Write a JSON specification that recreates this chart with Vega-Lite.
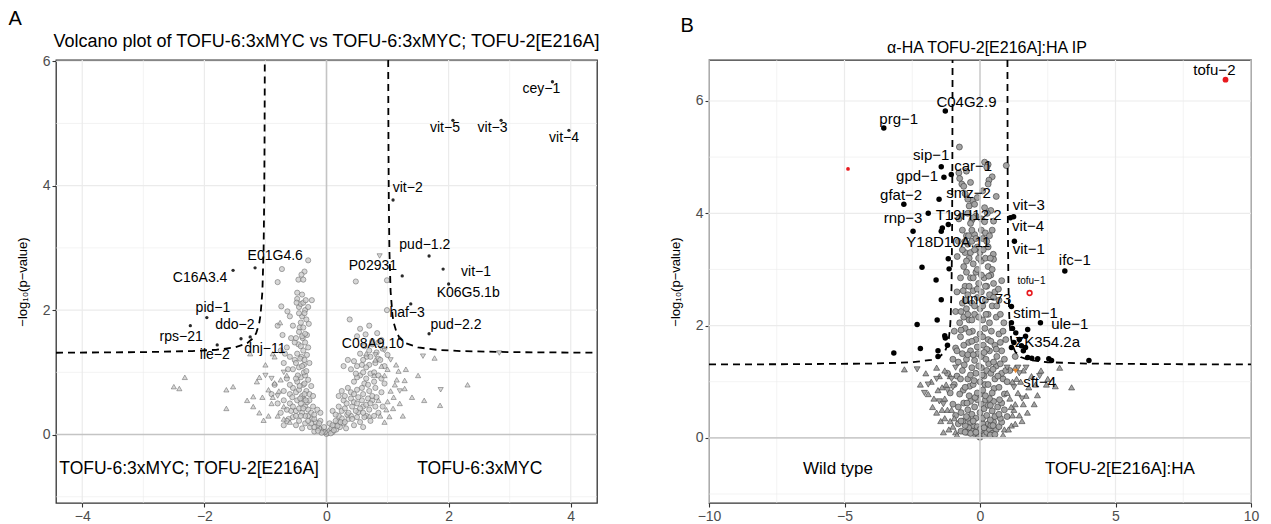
{
"$schema": "https://vega.github.io/schema/vega-lite/v6.json",
"background": "white",
"padding": {"left": 8, "top": 8, "right": 0, "bottom": 0},
"config": {
  "view": {"stroke": "#333333", "strokeWidth": 1.3},
  "font": "Liberation Sans",
  "title": {"font": "Liberation Sans", "fontWeight": "normal", "color": "black"},
  "axis": {"grid": false, "domain": false, "ticks": true, "tickColor": "#333333", "tickSize": 4, "tickWidth": 1.1, "labelFont": "Liberation Sans", "labelFontSize": 14, "labelColor": "#4d4d4d", "labelPadding": 2, "labelOverlap": false, "titleFont": "Liberation Sans", "titleFontSize": 13, "titleFontWeight": "normal", "titleColor": "black", "titlePadding": 13}
},
"datasets": {
  "gxA": [{"v":-4,"k":"major"},{"v":-3,"k":"minor"},{"v":-2,"k":"major"},{"v":-1,"k":"minor"},{"v":1,"k":"minor"},{"v":2,"k":"major"},{"v":3,"k":"minor"},{"v":4,"k":"major"}],
  "gyA": [{"v":-1,"k":"minor"},{"v":1,"k":"minor"},{"v":2,"k":"major"},{"v":3,"k":"minor"},{"v":4,"k":"major"},{"v":5,"k":"minor"},{"v":6,"k":"major"}],
  "gxB": [{"v":-10,"k":"major"},{"v":-7.5,"k":"minor"},{"v":-5,"k":"major"},{"v":-2.5,"k":"minor"},{"v":2.5,"k":"minor"},{"v":5,"k":"major"},{"v":7.5,"k":"minor"},{"v":10,"k":"major"}],
  "gyB": [{"v":-1,"k":"minor"},{"v":1,"k":"minor"},{"v":2,"k":"major"},{"v":3,"k":"minor"},{"v":4,"k":"major"},{"v":5,"k":"minor"},{"v":6,"k":"major"}],
  "zero": [{"v":0}],
  "thrA": [
    {"side":"R","x":1.0106,"y":6.02},{"side":"R","x":1.012,"y":5.47},{"side":"R","x":1.015,"y":4.63},{"side":"R","x":1.02,"y":3.8},{"side":"R","x":1.03,"y":2.97},{"side":"R","x":1.05,"y":2.3},{"side":"R","x":1.08,"y":1.925},{"side":"R","x":1.1,"y":1.8},{"side":"R","x":1.15,"y":1.633},{"side":"R","x":1.2,"y":1.55},{"side":"R","x":1.3,"y":1.467},{"side":"R","x":1.5,"y":1.4},{"side":"R","x":1.8,"y":1.363},{"side":"R","x":2.2,"y":1.342},{"side":"R","x":3,"y":1.325},{"side":"R","x":4.43,"y":1.315},
    {"side":"L","x":-1.0106,"y":6.02},{"side":"L","x":-1.012,"y":5.47},{"side":"L","x":-1.015,"y":4.63},{"side":"L","x":-1.02,"y":3.8},{"side":"L","x":-1.03,"y":2.97},{"side":"L","x":-1.05,"y":2.3},{"side":"L","x":-1.08,"y":1.925},{"side":"L","x":-1.1,"y":1.8},{"side":"L","x":-1.15,"y":1.633},{"side":"L","x":-1.2,"y":1.55},{"side":"L","x":-1.3,"y":1.467},{"side":"L","x":-1.5,"y":1.4},{"side":"L","x":-1.8,"y":1.363},{"side":"L","x":-2.2,"y":1.342},{"side":"L","x":-3,"y":1.325},{"side":"L","x":-4.43,"y":1.315}
  ],
  "thrB": [
    {"side":"R","x":1.013,"y":6.73},{"side":"R","x":1.015,"y":5.97},{"side":"R","x":1.02,"y":4.8},{"side":"R","x":1.03,"y":3.633},{"side":"R","x":1.05,"y":2.7},{"side":"R","x":1.08,"y":2.175},{"side":"R","x":1.1,"y":2.0},{"side":"R","x":1.15,"y":1.767},{"side":"R","x":1.2,"y":1.65},{"side":"R","x":1.3,"y":1.533},{"side":"R","x":1.5,"y":1.44},{"side":"R","x":1.8,"y":1.388},{"side":"R","x":2.5,"y":1.347},{"side":"R","x":4,"y":1.323},{"side":"R","x":7,"y":1.312},{"side":"R","x":10,"y":1.308},
    {"side":"L","x":-1.013,"y":6.73},{"side":"L","x":-1.015,"y":5.97},{"side":"L","x":-1.02,"y":4.8},{"side":"L","x":-1.03,"y":3.633},{"side":"L","x":-1.05,"y":2.7},{"side":"L","x":-1.08,"y":2.175},{"side":"L","x":-1.1,"y":2.0},{"side":"L","x":-1.15,"y":1.767},{"side":"L","x":-1.2,"y":1.65},{"side":"L","x":-1.3,"y":1.533},{"side":"L","x":-1.5,"y":1.44},{"side":"L","x":-1.8,"y":1.388},{"side":"L","x":-2.5,"y":1.347},{"side":"L","x":-4,"y":1.323},{"side":"L","x":-7,"y":1.312},{"side":"L","x":-10,"y":1.308}
  ],
  "gA": [
    {"x":0,"y":0.01,"s":"c"},{"x":0.02,"y":0.03,"s":"c"},{"x":-0.03,"y":0.04,"s":"c"},{"x":0.05,"y":0.06,"s":"c"},{"x":-0.06,"y":0.05,"s":"c"},{"x":0.08,"y":0.1,"s":"c"},{"x":-0.09,"y":0.08,"s":"c"},{"x":0.1,"y":0.04,"s":"c"},{"x":-0.12,"y":0.1,"s":"c"},{"x":0.13,"y":0.14,"s":"c"},{"x":-0.15,"y":0.15,"s":"c"},{"x":0.16,"y":0.08,"s":"c"},{"x":-0.18,"y":0.2,"s":"c"},{"x":0.19,"y":0.2,"s":"c"},{"x":-0.2,"y":0.05,"s":"c"},{"x":0.22,"y":0.12,"s":"c"},{"x":-0.24,"y":0.25,"s":"c"},{"x":0.25,"y":0.26,"s":"c"},{"x":-0.27,"y":0.12,"s":"c"},{"x":0.28,"y":0.18,"s":"c"},{"x":-0.3,"y":0.3,"s":"c"},{"x":0.32,"y":0.1,"s":"c"},{"x":-0.35,"y":0.18,"s":"c"},{"x":0.36,"y":0.25,"s":"c"},{"x":-0.4,"y":0.1,"s":"c"},{"x":0.4,"y":0.3,"s":"c"},{"x":-0.45,"y":0.22,"s":"c"},{"x":0.45,"y":0.15,"s":"c"},{"x":0.5,"y":0.28,"s":"c"},{"x":-0.5,"y":0.15,"s":"c"},{"x":0.55,"y":0.2,"s":"c"},{"x":-0.55,"y":0.28,"s":"c"},{"x":0.6,"y":0.12,"s":"c"},{"x":-0.62,"y":0.25,"s":"c"},{"x":0.65,"y":0.3,"s":"c"},{"x":-0.7,"y":0.15,"s":"c"},{"x":0.72,"y":0.22,"s":"c"},{"x":-0.1,"y":0.22,"s":"c"},{"x":0.05,"y":0.18,"s":"c"},{"x":-0.04,"y":0.12,"s":"c"},
    {"x":-0.08,"y":0.03,"s":"c"},{"x":0.07,"y":0.02,"s":"c"},{"x":-0.14,"y":0.06,"s":"c"},{"x":0.12,"y":0.07,"s":"c"},{"x":-0.2,"y":0.12,"s":"c"},{"x":0.18,"y":0.14,"s":"c"},{"x":-0.25,"y":0.18,"s":"c"},{"x":0.23,"y":0.2,"s":"c"},{"x":-0.3,"y":0.22,"s":"c"},{"x":0.3,"y":0.2,"s":"c"},{"x":-0.35,"y":0.3,"s":"c"},{"x":0.34,"y":0.32,"s":"c"},{"x":0.2,"y":0.3,"s":"c"},{"x":-0.2,"y":0.25,"s":"c"},{"x":0.1,"y":0.15,"s":"c"},{"x":-0.12,"y":0.18,"s":"c"},{"x":0.15,"y":0.22,"s":"c"},{"x":0.42,"y":0.25,"s":"c"},{"x":-0.5,"y":0.3,"s":"c"},{"x":0.52,"y":0.36,"s":"c"},{"x":-0.58,"y":0.38,"s":"c"},{"x":0.6,"y":0.45,"s":"c"},{"x":0.68,"y":0.58,"s":"c"},{"x":0.62,"y":0.28,"s":"c"},{"x":-0.65,"y":0.22,"s":"c"},{"x":0.78,"y":0.3,"s":"c"},
    {"x":-0.65,"y":0.4,"s":"c"},{"x":-0.6,"y":0.5,"s":"c"},{"x":-0.55,"y":0.45,"s":"c"},{"x":-0.5,"y":0.38,"s":"c"},{"x":-0.48,"y":0.55,"s":"c"},{"x":-0.45,"y":0.42,"s":"c"},{"x":-0.42,"y":0.5,"s":"c"},{"x":-0.4,"y":0.35,"s":"c"},{"x":-0.38,"y":0.58,"s":"c"},{"x":-0.35,"y":0.45,"s":"c"},{"x":-0.32,"y":0.52,"s":"c"},{"x":-0.3,"y":0.4,"s":"c"},{"x":-0.28,"y":0.55,"s":"c"},{"x":-0.25,"y":0.35,"s":"c"},{"x":-0.22,"y":0.45,"s":"c"},{"x":-0.2,"y":0.32,"s":"c"},{"x":-0.15,"y":0.4,"s":"c"},{"x":-0.1,"y":0.35,"s":"c"},{"x":0.1,"y":0.38,"s":"c"},{"x":0.15,"y":0.32,"s":"c"},{"x":0.2,"y":0.45,"s":"c"},{"x":0.25,"y":0.38,"s":"c"},{"x":0.28,"y":0.55,"s":"c"},{"x":0.3,"y":0.42,"s":"c"},{"x":0.33,"y":0.5,"s":"c"},{"x":0.36,"y":0.35,"s":"c"},{"x":0.4,"y":0.58,"s":"c"},{"x":0.42,"y":0.45,"s":"c"},{"x":0.45,"y":0.52,"s":"c"},{"x":0.48,"y":0.38,"s":"c"},{"x":0.5,"y":0.5,"s":"c"},{"x":0.55,"y":0.42,"s":"c"},{"x":0.58,"y":0.55,"s":"c"},{"x":0.6,"y":0.35,"s":"c"},{"x":0.65,"y":0.48,"s":"c"},{"x":0.7,"y":0.4,"s":"c"},{"x":0.75,"y":0.55,"s":"c"},{"x":0.8,"y":0.45,"s":"c"},{"x":0.85,"y":0.35,"s":"c"},{"x":-0.75,"y":0.35,"s":"c"},{"x":-0.8,"y":0.5,"s":"c"},{"x":-0.7,"y":0.55,"s":"c"},
    {"x":-0.6,"y":0.65,"s":"c"},{"x":-0.55,"y":0.75,"s":"c"},{"x":-0.5,"y":0.68,"s":"c"},{"x":-0.48,"y":0.85,"s":"c"},{"x":-0.45,"y":0.72,"s":"c"},{"x":-0.42,"y":0.92,"s":"c"},{"x":-0.4,"y":0.62,"s":"c"},{"x":-0.38,"y":0.8,"s":"c"},{"x":-0.35,"y":0.95,"s":"c"},{"x":-0.33,"y":0.7,"s":"c"},{"x":-0.3,"y":0.88,"s":"c"},{"x":-0.28,"y":0.65,"s":"c"},{"x":-0.25,"y":0.78,"s":"c"},{"x":-0.22,"y":0.62,"s":"c"},{"x":-0.65,"y":0.9,"s":"c"},{"x":-0.7,"y":0.7,"s":"c"},{"x":-0.85,"y":0.8,"s":"c"},{"x":-0.9,"y":0.65,"s":"c"},
    {"x":-0.42,"y":0.3,"s":"c"},{"x":-0.38,"y":0.42,"s":"c"},{"x":-0.36,"y":0.65,"s":"c"},{"x":-0.44,"y":0.78,"s":"c"},{"x":-0.37,"y":1.0,"s":"c"},{"x":-0.41,"y":1.25,"s":"c"},{"x":-0.46,"y":1.45,"s":"c"},{"x":-0.39,"y":1.55,"s":"c"},{"x":-0.44,"y":1.72,"s":"c"},{"x":-0.4,"y":1.9,"s":"c"},{"x":-0.35,"y":2.0,"s":"c"},{"x":-0.45,"y":2.05,"s":"c"},{"x":-0.37,"y":1.12,"s":"c"},{"x":-0.47,"y":0.95,"s":"c"},{"x":-0.34,"y":0.55,"s":"c"},{"x":-0.5,"y":0.9,"s":"c"},{"x":-0.52,"y":1.2,"s":"c"},{"x":-0.32,"y":1.6,"s":"c"},{"x":-0.43,"y":0.58,"s":"c"},{"x":-0.36,"y":0.82,"s":"c"},{"x":-0.52,"y":1.48,"s":"c"},{"x":-0.29,"y":1.78,"s":"c"},{"x":-0.56,"y":0.6,"s":"c"},{"x":-0.6,"y":0.8,"s":"c"},{"x":-0.63,"y":1.05,"s":"c"},{"x":-0.58,"y":1.55,"s":"c"},{"x":-0.68,"y":1.3,"s":"c"},
    {"x":0.3,"y":0.62,"s":"c"},{"x":0.35,"y":0.75,"s":"c"},{"x":0.4,"y":0.68,"s":"c"},{"x":0.45,"y":0.85,"s":"c"},{"x":0.5,"y":0.72,"s":"c"},{"x":0.55,"y":0.95,"s":"c"},{"x":0.6,"y":0.65,"s":"c"},{"x":0.62,"y":0.82,"s":"c"},{"x":0.65,"y":0.9,"s":"c"},{"x":0.7,"y":0.7,"s":"c"},{"x":0.72,"y":0.98,"s":"c"},{"x":0.75,"y":0.62,"s":"c"},{"x":0.78,"y":0.85,"s":"c"},{"x":0.8,"y":0.75,"s":"c"},{"x":0.85,"y":0.95,"s":"c"},{"x":0.9,"y":0.68,"s":"c"},{"x":0.95,"y":0.82,"s":"c"},{"x":0.25,"y":0.7,"s":"c"},{"x":0.2,"y":0.62,"s":"c"},
    {"x":0.45,"y":0.65,"s":"c"},{"x":0.52,"y":0.6,"s":"c"},{"x":0.58,"y":0.75,"s":"c"},{"x":0.68,"y":0.8,"s":"c"},{"x":0.5,"y":0.92,"s":"c"},{"x":0.6,"y":1.0,"s":"c"},{"x":0.7,"y":1.12,"s":"c"},{"x":0.78,"y":1.0,"s":"c"},{"x":0.85,"y":1.22,"s":"c"},{"x":0.9,"y":0.9,"s":"c"},{"x":0.66,"y":1.25,"s":"c"},{"x":0.58,"y":1.12,"s":"c"},{"x":0.48,"y":0.98,"s":"c"},{"x":0.72,"y":0.5,"s":"c"},{"x":0.82,"y":0.6,"s":"c"},{"x":0.92,"y":0.45,"s":"c"},
    {"x":-0.55,"y":1.05,"s":"c"},{"x":-0.5,"y":1.15,"s":"c"},{"x":-0.48,"y":1.3,"s":"c"},{"x":-0.45,"y":1.08,"s":"c"},{"x":-0.43,"y":1.22,"s":"c"},{"x":-0.42,"y":1.42,"s":"c"},{"x":-0.4,"y":1.1,"s":"c"},{"x":-0.38,"y":1.35,"s":"c"},{"x":-0.36,"y":1.2,"s":"c"},{"x":-0.35,"y":1.48,"s":"c"},{"x":-0.33,"y":1.02,"s":"c"},{"x":-0.32,"y":1.28,"s":"c"},{"x":-0.3,"y":1.4,"s":"c"},{"x":-0.28,"y":1.15,"s":"c"},{"x":-0.6,"y":1.25,"s":"c"},{"x":-0.65,"y":1.4,"s":"c"},{"x":-0.7,"y":1.15,"s":"c"},{"x":-0.75,"y":1.35,"s":"c"},
    {"x":0.4,"y":1.05,"s":"c"},{"x":0.45,"y":1.18,"s":"c"},{"x":0.5,"y":1.1,"s":"c"},{"x":0.55,"y":1.3,"s":"c"},{"x":0.6,"y":1.2,"s":"c"},{"x":0.62,"y":1.42,"s":"c"},{"x":0.65,"y":1.08,"s":"c"},{"x":0.7,"y":1.35,"s":"c"},{"x":0.72,"y":1.25,"s":"c"},{"x":0.75,"y":1.45,"s":"c"},{"x":0.8,"y":1.15,"s":"c"},{"x":0.82,"y":1.32,"s":"c"},{"x":0.85,"y":1.48,"s":"c"},{"x":0.88,"y":1.2,"s":"c"},{"x":0.92,"y":1.38,"s":"c"},{"x":0.95,"y":1.1,"s":"c"},{"x":0.35,"y":1.2,"s":"c"},{"x":0.28,"y":1.1,"s":"c"},{"x":1.0,"y":1.28,"s":"c"},
    {"x":-0.5,"y":1.55,"s":"c"},{"x":-0.45,"y":1.65,"s":"c"},{"x":-0.42,"y":1.8,"s":"c"},{"x":-0.4,"y":1.58,"s":"c"},{"x":-0.38,"y":1.72,"s":"c"},{"x":-0.36,"y":1.95,"s":"c"},{"x":-0.35,"y":1.62,"s":"c"},{"x":-0.33,"y":1.85,"s":"c"},{"x":-0.3,"y":2.05,"s":"c"},{"x":-0.42,"y":2.1,"s":"c"},{"x":-0.45,"y":1.95,"s":"c"},{"x":-0.48,"y":2.18,"s":"c"},{"x":-0.4,"y":2.25,"s":"c"},{"x":-0.38,"y":2.12,"s":"c"},{"x":-0.55,"y":1.75,"s":"c"},{"x":-0.6,"y":1.9,"s":"c"},{"x":-0.72,"y":1.6,"s":"c"},{"x":-0.8,"y":1.75,"s":"c"},
    {"x":-0.34,"y":2.16,"s":"c"},{"x":-0.24,"y":2.16,"s":"c"},{"x":-0.49,"y":2.12,"s":"c"},{"x":-0.74,"y":2.06,"s":"c"},{"x":-0.64,"y":1.98,"s":"c"},{"x":-0.48,"y":2.28,"s":"c"},
    {"x":0.64,"y":1.61,"s":"c"},{"x":0.83,"y":1.63,"s":"c"},{"x":0.75,"y":1.5,"s":"c"},{"x":0.9,"y":1.52,"s":"c"},{"x":0.5,"y":1.58,"s":"c"},{"x":0.55,"y":1.7,"s":"c"},{"x":0.38,"y":1.85,"s":"c"},{"x":0.99,"y":2.0,"s":"c"},{"x":0.7,"y":1.75,"s":"c"},
    {"x":-0.3,"y":2.8,"s":"c"},{"x":-0.36,"y":2.62,"s":"c"},{"x":-0.41,"y":2.57,"s":"c"},{"x":-0.46,"y":2.49,"s":"c"},{"x":-0.38,"y":2.49,"s":"c"},{"x":-0.73,"y":2.66,"s":"c"},{"x":-0.8,"y":2.45,"s":"c"},{"x":0.48,"y":2.46,"s":"c"},{"x":0.99,"y":2.48,"s":"c"},
    {"x":-2.5,"y":0.77,"s":"u"},{"x":-2.41,"y":0.74,"s":"u"},{"x":-2.32,"y":0.92,"s":"u"},{"x":-1.64,"y":0.72,"s":"u"},{"x":-1.53,"y":0.77,"s":"u"},{"x":-1.64,"y":0.42,"s":"u"},{"x":-1.2,"y":0.61,"s":"u"},{"x":-1.14,"y":0.85,"s":"u"},{"x":-1.1,"y":0.92,"s":"u"},{"x":-1.03,"y":0.23,"s":"u"},{"x":-0.85,"y":0.83,"s":"u"},{"x":-0.75,"y":0.88,"s":"u"},{"x":-1.0,"y":1.12,"s":"u"},{"x":-0.76,"y":1.8,"s":"u"},{"x":-0.9,"y":0.5,"s":"u"},{"x":-0.8,"y":0.3,"s":"u"},{"x":-0.95,"y":0.72,"s":"u"},{"x":-1.05,"y":0.6,"s":"u"},{"x":-0.7,"y":0.45,"s":"u"},{"x":-0.6,"y":0.2,"s":"u"},{"x":-1.2,"y":0.45,"s":"u"},{"x":-0.88,"y":1.3,"s":"u"},{"x":-0.85,"y":1.25,"s":"u"},{"x":-1.25,"y":1.3,"s":"u"},
    {"x":-0.95,"y":0.3,"s":"u"},{"x":-0.88,"y":0.6,"s":"u"},{"x":-0.78,"y":0.7,"s":"u"},{"x":-0.7,"y":0.25,"s":"u"},{"x":-1.1,"y":0.35,"s":"u"},{"x":-1.3,"y":0.55,"s":"u"},{"x":-0.65,"y":0.95,"s":"u"},{"x":0.88,"y":0.3,"s":"u"},{"x":0.98,"y":0.4,"s":"u"},{"x":1.1,"y":0.6,"s":"u"},{"x":1.25,"y":0.3,"s":"u"},{"x":0.78,"y":0.95,"s":"u"},{"x":1.0,"y":1.05,"s":"u"},{"x":1.15,"y":0.88,"s":"u"},{"x":1.5,"y":0.95,"s":"u"},{"x":1.6,"y":0.55,"s":"u"},
    {"x":1.12,"y":0.8,"s":"u"},{"x":1.28,"y":0.74,"s":"u"},{"x":1.28,"y":0.87,"s":"u"},{"x":1.86,"y":0.47,"s":"u"},{"x":2.31,"y":0.8,"s":"u"},{"x":1.77,"y":1.23,"s":"u"},{"x":1.03,"y":0.29,"s":"u"},{"x":1.09,"y":0.42,"s":"u"},{"x":1.0,"y":0.53,"s":"u"},{"x":1.14,"y":1.12,"s":"u"},{"x":1.18,"y":1.02,"s":"u"},{"x":0.95,"y":0.95,"s":"u"},{"x":0.9,"y":1.1,"s":"u"},{"x":1.05,"y":0.7,"s":"u"},{"x":0.85,"y":0.55,"s":"u"},{"x":0.7,"y":0.3,"s":"u"},{"x":1.2,"y":0.5,"s":"u"},{"x":1.3,"y":1.05,"s":"u"},{"x":1.4,"y":0.6,"s":"u"},{"x":0.95,"y":0.2,"s":"u"},{"x":0.8,"y":1.2,"s":"u"},{"x":0.65,"y":1.3,"s":"u"},
    {"x":1.87,"y":0.72,"s":"d"},{"x":2.83,"y":1.31,"s":"d"},{"x":1.58,"y":1.26,"s":"d"},{"x":0.87,"y":2.87,"s":"d"},{"x":0.8,"y":1.28,"s":"d"},{"x":-0.7,"y":1.0,"s":"d"},{"x":1.05,"y":1.2,"s":"d"},{"x":-0.9,"y":0.9,"s":"d"},{"x":-0.8,"y":0.62,"s":"d"},{"x":0.95,"y":1.35,"s":"d"},{"x":-1.0,"y":0.95,"s":"d"},{"x":1.2,"y":0.7,"s":"d"}
  ],
  "lA": [
    {"g":"cey−1","x":3.7,"y":5.67,"lx":3.52,"ly":5.55},
    {"g":"vit−5","x":2.07,"y":5.05,"lx":1.94,"ly":4.92},
    {"g":"vit−3","x":2.86,"y":5.05,"lx":2.72,"ly":4.92},
    {"g":"vit−4","x":3.97,"y":4.89,"lx":3.89,"ly":4.76},
    {"g":"vit−2","x":1.09,"y":3.77,"lx":1.33,"ly":3.96},
    {"g":"pud−1.2","x":1.68,"y":2.87,"lx":1.61,"ly":3.04},
    {"g":"P02931","x":1.24,"y":2.55,"lx":0.76,"ly":2.71},
    {"g":"vit−1","x":1.91,"y":2.66,"lx":2.45,"ly":2.61},
    {"g":"K06G5.1b","x":2.0,"y":2.42,"lx":2.32,"ly":2.28},
    {"g":"haf−3","x":1.38,"y":2.1,"lx":1.32,"ly":1.96},
    {"g":"pud−2.2","x":1.68,"y":1.62,"lx":2.12,"ly":1.76},
    {"g":"C08A9.10","x":1.2,"y":1.55,"lx":0.76,"ly":1.46},
    {"g":"E01G4.6","x":-1.17,"y":2.68,"lx":-0.84,"ly":2.87},
    {"g":"C16A3.4","x":-1.53,"y":2.64,"lx":-2.07,"ly":2.52},
    {"g":"pid−1","x":-1.96,"y":1.88,"lx":-1.86,"ly":2.04},
    {"g":"rps−21","x":-2.23,"y":1.75,"lx":-2.38,"ly":1.57},
    {"g":"ddo−2","x":-1.25,"y":1.57,"lx":-1.5,"ly":1.76},
    {"g":"dnj−11","x":-1.4,"y":1.54,"lx":-1.01,"ly":1.38},
    {"g":"ile−2","x":-1.79,"y":1.44,"lx":-1.83,"ly":1.28}
  ],
  "tA": [{"t":"TOFU-6:3xMYC; TOFU-2[E216A]","x":-2.25,"y":-0.55},{"t":"TOFU-6:3xMYC","x":2.51,"y":-0.55}],
  "tB": [{"t":"Wild type","x":-5.24,"y":-0.55},{"t":"TOFU-2[E216A]:HA","x":5.16,"y":-0.55}],
  "gB": [
    {"x":0,"y":0.01,"s":"c"},{"x":0.03,"y":0.04,"s":"c"},{"x":-0.04,"y":0.03,"s":"c"},{"x":0.08,"y":0.08,"s":"c"},{"x":-0.08,"y":0.06,"s":"c"},{"x":0.12,"y":0.12,"s":"c"},{"x":-0.13,"y":0.1,"s":"c"},{"x":0.17,"y":0.05,"s":"c"},{"x":-0.18,"y":0.15,"s":"c"},{"x":0.2,"y":0.18,"s":"c"},{"x":-0.22,"y":0.08,"s":"c"},{"x":0.25,"y":0.1,"s":"c"},{"x":-0.26,"y":0.22,"s":"c"},{"x":0.3,"y":0.25,"s":"c"},{"x":-0.3,"y":0.12,"s":"c"},{"x":0.35,"y":0.15,"s":"c"},{"x":-0.35,"y":0.28,"s":"c"},{"x":0.4,"y":0.22,"s":"c"},{"x":-0.42,"y":0.18,"s":"c"},{"x":0.45,"y":0.08,"s":"c"},{"x":-0.48,"y":0.1,"s":"c"},{"x":0.5,"y":0.28,"s":"c"},{"x":-0.55,"y":0.22,"s":"c"},{"x":0.6,"y":0.15,"s":"c"},{"x":-0.62,"y":0.3,"s":"c"},{"x":0.7,"y":0.2,"s":"c"},{"x":-0.7,"y":0.12,"s":"c"},{"x":0.8,"y":0.28,"s":"c"},{"x":-0.8,"y":0.25,"s":"c"},{"x":0.1,"y":0.25,"s":"c"},{"x":-0.1,"y":0.2,"s":"c"},{"x":0,"y":0.15,"s":"c"},
    {"x":-0.35,"y":0.08,"s":"c"},{"x":0.38,"y":0.05,"s":"c"},{"x":-0.55,"y":0.1,"s":"c"},{"x":0.55,"y":0.06,"s":"c"},{"x":-0.7,"y":0.3,"s":"c"},{"x":0.75,"y":0.35,"s":"c"},{"x":-0.15,"y":0.1,"s":"c"},{"x":0.15,"y":0.18,"s":"c"},{"x":-0.45,"y":0.35,"s":"c"},{"x":0.48,"y":0.22,"s":"c"},
    {"x":-0.9,"y":0.4,"s":"c"},{"x":-0.8,"y":0.55,"s":"c"},{"x":-0.7,"y":0.45,"s":"c"},{"x":-0.6,"y":0.62,"s":"c"},{"x":-0.5,"y":0.38,"s":"c"},{"x":-0.45,"y":0.5,"s":"c"},{"x":-0.35,"y":0.65,"s":"c"},{"x":-0.3,"y":0.42,"s":"c"},{"x":-0.2,"y":0.55,"s":"c"},{"x":-0.15,"y":0.35,"s":"c"},{"x":-0.1,"y":0.68,"s":"c"},{"x":0,"y":0.45,"s":"c"},{"x":0.05,"y":0.6,"s":"c"},{"x":0.1,"y":0.35,"s":"c"},{"x":0.15,"y":0.52,"s":"c"},{"x":0.2,"y":0.68,"s":"c"},{"x":0.25,"y":0.4,"s":"c"},{"x":0.3,"y":0.58,"s":"c"},{"x":0.38,"y":0.32,"s":"c"},{"x":0.45,"y":0.48,"s":"c"},{"x":0.5,"y":0.65,"s":"c"},{"x":0.55,"y":0.38,"s":"c"},{"x":0.65,"y":0.55,"s":"c"},{"x":0.7,"y":0.42,"s":"c"},{"x":0.8,"y":0.62,"s":"c"},{"x":0.9,"y":0.5,"s":"c"},{"x":1.0,"y":0.38,"s":"c"},{"x":-1.0,"y":0.6,"s":"c"},{"x":-0.25,"y":0.3,"s":"c"},{"x":0.35,"y":0.7,"s":"c"},
    {"x":-0.62,"y":0.85,"s":"c"},{"x":-0.48,"y":0.62,"s":"c"},{"x":-0.38,"y":0.92,"s":"c"},{"x":-0.18,"y":0.72,"s":"c"},{"x":0.02,"y":0.78,"s":"c"},{"x":0.18,"y":0.95,"s":"c"},{"x":0.38,"y":0.58,"s":"c"},{"x":0.52,"y":0.88,"s":"c"},{"x":0.72,"y":0.68,"s":"c"},{"x":0.85,"y":1.05,"s":"c"},
    {"x":-1.1,"y":0.8,"s":"c"},{"x":-0.95,"y":0.95,"s":"c"},{"x":-0.85,"y":1.1,"s":"c"},{"x":-0.75,"y":0.78,"s":"c"},{"x":-0.65,"y":1.2,"s":"c"},{"x":-0.55,"y":0.9,"s":"c"},{"x":-0.45,"y":1.05,"s":"c"},{"x":-0.4,"y":0.75,"s":"c"},{"x":-0.3,"y":1.25,"s":"c"},{"x":-0.25,"y":0.95,"s":"c"},{"x":-0.15,"y":1.15,"s":"c"},{"x":-0.1,"y":0.8,"s":"c"},{"x":0,"y":1.0,"s":"c"},{"x":0.05,"y":1.25,"s":"c"},{"x":0.1,"y":0.85,"s":"c"},{"x":0.15,"y":1.1,"s":"c"},{"x":0.2,"y":0.75,"s":"c"},{"x":0.25,"y":1.2,"s":"c"},{"x":0.3,"y":0.95,"s":"c"},{"x":0.4,"y":1.15,"s":"c"},{"x":0.45,"y":0.8,"s":"c"},{"x":0.55,"y":1.05,"s":"c"},{"x":0.6,"y":1.28,"s":"c"},{"x":0.7,"y":0.9,"s":"c"},{"x":0.8,"y":1.15,"s":"c"},{"x":0.9,"y":0.78,"s":"c"},{"x":1.0,"y":1.0,"s":"c"},{"x":1.1,"y":1.2,"s":"c"},{"x":-1.2,"y":1.15,"s":"c"},{"x":-0.05,"y":1.28,"s":"c"},
    {"x":-0.72,"y":1.05,"s":"c"},{"x":-0.58,"y":1.3,"s":"c"},{"x":-0.35,"y":1.12,"s":"c"},{"x":-0.22,"y":1.02,"s":"c"},{"x":0.08,"y":1.12,"s":"c"},{"x":0.32,"y":1.32,"s":"c"},{"x":0.48,"y":1.22,"s":"c"},{"x":0.66,"y":1.1,"s":"c"},{"x":0.75,"y":1.32,"s":"c"},{"x":0.95,"y":1.2,"s":"c"},
    {"x":-1.0,"y":1.4,"s":"c"},{"x":-0.9,"y":1.6,"s":"c"},{"x":-0.8,"y":1.35,"s":"c"},{"x":-0.72,"y":1.8,"s":"c"},{"x":-0.65,"y":1.5,"s":"c"},{"x":-0.55,"y":1.95,"s":"c"},{"x":-0.5,"y":1.4,"s":"c"},{"x":-0.42,"y":1.7,"s":"c"},{"x":-0.35,"y":1.55,"s":"c"},{"x":-0.28,"y":1.9,"s":"c"},{"x":-0.2,"y":1.38,"s":"c"},{"x":-0.15,"y":1.75,"s":"c"},{"x":-0.08,"y":1.5,"s":"c"},{"x":0,"y":1.85,"s":"c"},{"x":0.05,"y":1.45,"s":"c"},{"x":0.12,"y":1.65,"s":"c"},{"x":0.18,"y":1.95,"s":"c"},{"x":0.22,"y":1.4,"s":"c"},{"x":0.3,"y":1.75,"s":"c"},{"x":0.35,"y":1.55,"s":"c"},{"x":0.42,"y":1.9,"s":"c"},{"x":0.5,"y":1.35,"s":"c"},{"x":0.55,"y":1.65,"s":"c"},{"x":0.62,"y":1.45,"s":"c"},{"x":0.7,"y":1.85,"s":"c"},{"x":0.8,"y":1.55,"s":"c"},{"x":0.9,"y":1.4,"s":"c"},{"x":1.3,"y":1.45,"s":"c"},{"x":-0.95,"y":1.9,"s":"c"},{"x":0.95,"y":1.75,"s":"c"},
    {"x":-0.85,"y":1.55,"s":"c"},{"x":-0.6,"y":1.65,"s":"c"},{"x":-0.45,"y":1.48,"s":"c"},{"x":-0.3,"y":1.72,"s":"c"},{"x":-0.1,"y":1.62,"s":"c"},{"x":0.1,"y":1.8,"s":"c"},{"x":0.25,"y":1.58,"s":"c"},{"x":0.4,"y":1.72,"s":"c"},{"x":0.6,"y":1.58,"s":"c"},{"x":0.75,"y":1.7,"s":"c"},{"x":-0.7,"y":1.92,"s":"c"},{"x":0.85,"y":1.9,"s":"c"},{"x":-0.4,"y":1.88,"s":"c"},{"x":0.15,"y":1.52,"s":"c"},{"x":-0.25,"y":1.48,"s":"c"},
    {"x":-0.75,"y":2.05,"s":"c"},{"x":-0.65,"y":2.4,"s":"c"},{"x":-0.6,"y":2.15,"s":"c"},{"x":-0.55,"y":2.7,"s":"c"},{"x":-0.5,"y":2.3,"s":"c"},{"x":-0.45,"y":2.55,"s":"c"},{"x":-0.4,"y":2.1,"s":"c"},{"x":-0.35,"y":2.85,"s":"c"},{"x":-0.3,"y":2.4,"s":"c"},{"x":-0.25,"y":2.62,"s":"c"},{"x":-0.2,"y":2.2,"s":"c"},{"x":-0.15,"y":2.95,"s":"c"},{"x":-0.1,"y":2.5,"s":"c"},{"x":-0.05,"y":2.75,"s":"c"},{"x":0,"y":2.3,"s":"c"},{"x":0.05,"y":2.6,"s":"c"},{"x":0.1,"y":2.1,"s":"c"},{"x":0.15,"y":2.85,"s":"c"},{"x":0.2,"y":2.45,"s":"c"},{"x":0.25,"y":2.7,"s":"c"},{"x":0.3,"y":2.2,"s":"c"},{"x":0.35,"y":2.55,"s":"c"},{"x":0.4,"y":2.9,"s":"c"},{"x":0.45,"y":2.35,"s":"c"},{"x":0.55,"y":2.6,"s":"c"},{"x":0.6,"y":2.15,"s":"c"},{"x":0.7,"y":2.45,"s":"c"},{"x":-0.85,"y":2.6,"s":"c"},{"x":-0.9,"y":2.25,"s":"c"},{"x":0.8,"y":2.8,"s":"c"},{"x":0.88,"y":2.05,"s":"c"},
    {"x":-0.7,"y":2.25,"s":"c"},{"x":-0.55,"y":2.45,"s":"c"},{"x":-0.45,"y":2.2,"s":"c"},{"x":-0.3,"y":2.1,"s":"c"},{"x":-0.2,"y":2.35,"s":"c"},{"x":-0.05,"y":2.15,"s":"c"},{"x":0.1,"y":2.35,"s":"c"},{"x":0.22,"y":2.2,"s":"c"},{"x":0.35,"y":2.05,"s":"c"},{"x":0.5,"y":2.5,"s":"c"},{"x":0.62,"y":2.35,"s":"c"},{"x":0.75,"y":2.2,"s":"c"},{"x":-0.62,"y":2.62,"s":"c"},{"x":-0.4,"y":2.7,"s":"c"},{"x":-0.25,"y":2.85,"s":"c"},{"x":-0.1,"y":2.65,"s":"c"},{"x":0.05,"y":2.9,"s":"c"},{"x":0.2,"y":2.7,"s":"c"},{"x":0.32,"y":2.88,"s":"c"},{"x":0.5,"y":2.75,"s":"c"},{"x":0.68,"y":2.65,"s":"c"},{"x":-0.5,"y":2.95,"s":"c"},{"x":-0.72,"y":2.85,"s":"c"},
    {"x":-0.84,"y":3.23,"s":"c"},{"x":-0.6,"y":3.05,"s":"c"},{"x":-0.55,"y":3.3,"s":"c"},{"x":-0.5,"y":3.6,"s":"c"},{"x":-0.45,"y":3.45,"s":"c"},{"x":-0.4,"y":3.2,"s":"c"},{"x":-0.3,"y":3.5,"s":"c"},{"x":-0.25,"y":3.1,"s":"c"},{"x":-0.2,"y":3.62,"s":"c"},{"x":-0.1,"y":3.4,"s":"c"},{"x":-0.1,"y":3.0,"s":"c"},{"x":0,"y":3.3,"s":"c"},{"x":0.05,"y":3.15,"s":"c"},{"x":0.1,"y":3.55,"s":"c"},{"x":0.2,"y":3.2,"s":"c"},{"x":0.3,"y":3.4,"s":"c"},{"x":0.3,"y":3.05,"s":"c"},{"x":0.45,"y":3.0,"s":"c"},{"x":0.49,"y":3.27,"s":"c"},{"x":0.5,"y":3.18,"s":"c"},{"x":0.45,"y":3.7,"s":"c"},{"x":-0.65,"y":3.7,"s":"c"},{"x":-0.8,"y":3.5,"s":"c"},
    {"x":-0.5,"y":3.15,"s":"c"},{"x":-0.35,"y":3.3,"s":"c"},{"x":-0.2,"y":3.35,"s":"c"},{"x":-0.05,"y":3.2,"s":"c"},{"x":0.12,"y":3.35,"s":"c"},{"x":0.25,"y":3.5,"s":"c"},{"x":0.38,"y":3.2,"s":"c"},{"x":-0.42,"y":3.6,"s":"c"},{"x":-0.15,"y":3.55,"s":"c"},{"x":0.05,"y":3.7,"s":"c"},{"x":0.2,"y":3.65,"s":"c"},{"x":-0.3,"y":3.7,"s":"c"},{"x":0.35,"y":3.6,"s":"c"},{"x":-0.55,"y":3.5,"s":"c"},{"x":-0.65,"y":3.35,"s":"c"},
    {"x":-0.45,"y":4.0,"s":"c"},{"x":-0.15,"y":3.95,"s":"c"},{"x":0.05,"y":3.9,"s":"c"},{"x":0.4,"y":4.05,"s":"c"},{"x":-0.55,"y":4.35,"s":"c"},{"x":0.1,"y":4.4,"s":"c"},{"x":-0.35,"y":4.55,"s":"c"},{"x":0.6,"y":4.3,"s":"c"},{"x":0.45,"y":4.65,"s":"c"},{"x":-0.5,"y":4.75,"s":"c"},
    {"x":-0.76,"y":5.18,"s":"c"},{"x":0.17,"y":4.91,"s":"c"},{"x":0.3,"y":4.87,"s":"c"},{"x":0.25,"y":4.82,"s":"c"},{"x":0.97,"y":4.85,"s":"c"},{"x":-0.78,"y":4.72,"s":"c"},{"x":-0.75,"y":4.62,"s":"c"},{"x":-0.67,"y":4.52,"s":"c"},{"x":-0.6,"y":4.48,"s":"c"},{"x":0.33,"y":4.59,"s":"c"},{"x":0.3,"y":4.52,"s":"c"},{"x":-0.28,"y":4.23,"s":"c"},{"x":-0.45,"y":4.25,"s":"c"},{"x":-0.4,"y":4.13,"s":"c"},{"x":-0.2,"y":4.16,"s":"c"},{"x":-0.7,"y":3.95,"s":"c"},{"x":-0.78,"y":3.9,"s":"c"},{"x":-0.3,"y":3.88,"s":"c"},{"x":-0.35,"y":3.82,"s":"c"},{"x":-0.25,"y":3.92,"s":"c"},{"x":0.17,"y":3.85,"s":"c"},{"x":0.27,"y":4.0,"s":"c"},{"x":0.17,"y":4.1,"s":"c"},{"x":-0.1,"y":4.28,"s":"c"},{"x":0.5,"y":3.86,"s":"c"},
    {"x":-2.79,"y":1.22,"s":"u"},{"x":-1.91,"y":0.78,"s":"u"},{"x":2.94,"y":1.25,"s":"u"},{"x":3.38,"y":0.9,"s":"u"},{"x":2.78,"y":0.92,"s":"u"},{"x":2.12,"y":0.76,"s":"u"},{"x":2.5,"y":1.05,"s":"u"},{"x":2.45,"y":0.95,"s":"u"},{"x":1.3,"y":1.25,"s":"u"},{"x":1.16,"y":0.22,"s":"u"},{"x":-1.5,"y":1.1,"s":"u"},{"x":-1.4,"y":0.9,"s":"u"},{"x":-1.3,"y":0.7,"s":"u"},{"x":-1.2,"y":0.5,"s":"u"},{"x":-1.1,"y":0.3,"s":"u"},{"x":-1.6,"y":1.25,"s":"u"},{"x":-1.8,"y":1.0,"s":"u"},{"x":1.2,"y":0.4,"s":"u"},{"x":1.3,"y":0.6,"s":"u"},{"x":1.4,"y":0.8,"s":"u"},{"x":1.5,"y":1.0,"s":"u"},{"x":1.6,"y":1.2,"s":"u"},{"x":1.8,"y":0.9,"s":"u"},{"x":1.1,"y":0.7,"s":"u"},{"x":1.2,"y":1.0,"s":"u"},{"x":-1.0,"y":0.2,"s":"u"},{"x":-0.9,"y":0.1,"s":"u"},{"x":0.9,"y":0.15,"s":"u"},{"x":-1.3,"y":1.2,"s":"u"},{"x":-1.4,"y":0.5,"s":"u"},{"x":1.6,"y":0.6,"s":"u"},{"x":-1.7,"y":0.7,"s":"u"},
    {"x":-1.45,"y":0.3,"s":"u"},{"x":-1.35,"y":0.1,"s":"u"},{"x":-1.6,"y":0.45,"s":"u"},{"x":-1.75,"y":0.55,"s":"u"},{"x":-1.55,"y":0.85,"s":"u"},{"x":-1.25,"y":0.95,"s":"u"},{"x":-1.1,"y":1.1,"s":"u"},{"x":-1.15,"y":0.15,"s":"u"},{"x":-0.95,"y":0.35,"s":"u"},{"x":-1.05,"y":0.5,"s":"u"},{"x":-1.3,"y":0.35,"s":"u"},{"x":1.3,"y":0.25,"s":"u"},{"x":1.45,"y":0.4,"s":"u"},{"x":1.25,"y":0.5,"s":"u"},{"x":1.55,"y":0.3,"s":"u"},{"x":1.7,"y":0.75,"s":"u"},{"x":1.35,"y":1.05,"s":"u"},{"x":1.9,"y":1.1,"s":"u"},{"x":2.05,"y":0.95,"s":"u"},{"x":1.05,"y":0.15,"s":"u"},{"x":1.15,"y":0.55,"s":"u"},{"x":1.0,"y":0.8,"s":"u"},{"x":2.25,"y":1.2,"s":"u"},{"x":2.0,"y":0.6,"s":"u"},{"x":1.75,"y":0.45,"s":"u"},{"x":-2.0,"y":1.15,"s":"u"},{"x":-2.2,"y":0.95,"s":"u"},{"x":-0.85,"y":0.05,"s":"u"},{"x":0.85,"y":0.05,"s":"u"},
    {"x":-2.32,"y":1.22,"s":"d"},{"x":-1.91,"y":0.95,"s":"d"},{"x":1.7,"y":1.25,"s":"d"},{"x":1.45,"y":1.15,"s":"d"},{"x":-1.2,"y":0.85,"s":"d"},{"x":-1.5,"y":0.65,"s":"d"},{"x":1.25,"y":0.9,"s":"d"},{"x":-0.9,"y":1.25,"s":"d"},{"x":1.0,"y":1.25,"s":"d"},{"x":-1.05,"y":1.05,"s":"d"},
    {"x":-1.6,"y":1.05,"s":"d"},{"x":-1.35,"y":0.6,"s":"d"},{"x":1.55,"y":0.7,"s":"d"},{"x":1.4,"y":1.25,"s":"d"},{"x":-2.05,"y":0.8,"s":"d"},{"x":2.2,"y":1.1,"s":"d"},{"x":-1.0,"y":0.9,"s":"d"}
  ],
  "pB": [
    {"g":"tofu−2","k":"red","x":9.06,"y":6.38,"lx":8.65,"ly":6.56},
    {"g":"C04G2.9","k":"sig","x":-1.28,"y":5.82,"lx":-0.5,"ly":5.98},
    {"g":"prg−1","k":"sig","x":-3.55,"y":5.52,"lx":-3.0,"ly":5.68},
    {"g":"sip−1","k":"sig","x":-1.43,"y":4.83,"lx":-1.8,"ly":5.03},
    {"g":"car−1","k":"sig","x":-1.06,"y":4.69,"lx":-0.25,"ly":4.84},
    {"g":"gpd−1","k":"sig","x":-1.33,"y":4.64,"lx":-2.32,"ly":4.67},
    {"g":"gfat−2","k":"sig","x":-2.81,"y":4.16,"lx":-2.91,"ly":4.33},
    {"g":"smz−2","k":"sig","x":-1.51,"y":4.25,"lx":-0.42,"ly":4.36},
    {"g":"rnp−3","k":"sig","x":-1.91,"y":4.0,"lx":-2.84,"ly":3.91},
    {"g":"T19H12.2","k":"sig","x":-1.17,"y":3.8,"lx":-0.42,"ly":3.97},
    {"g":"Y18D10A.11","k":"sig","x":-1.43,"y":3.68,"lx":-1.17,"ly":3.49},
    {"g":"vit−3","k":"sig","x":1.24,"y":3.94,"lx":1.8,"ly":4.14},
    {"g":"vit−4","k":"sig","x":1.12,"y":3.92,"lx":1.77,"ly":3.77},
    {"g":"vit−1","k":"sig","x":1.27,"y":3.5,"lx":1.8,"ly":3.36},
    {"g":"ifc−1","k":"sig","x":3.13,"y":2.97,"lx":3.5,"ly":3.17},
    {"g":"tofu−1","k":"open","x":1.83,"y":2.58,"lx":1.9,"ly":2.8},
    {"g":"unc−73","k":"sig","x":-1.43,"y":2.46,"lx":0.24,"ly":2.48},
    {"g":"stim−1","k":"sig","x":1.16,"y":2.34,"lx":2.05,"ly":2.22},
    {"g":"ule−1","k":"sig","x":2.23,"y":2.05,"lx":3.31,"ly":2.03},
    {"g":"ZK354.2a","k":"sig","x":1.76,"y":1.93,"lx":2.49,"ly":1.71},
    {"g":"sft−4","k":"orange","x":1.31,"y":1.19,"lx":2.2,"ly":0.99},
    {"g":"","k":"reds","x":-4.87,"y":4.79},
    {"g":"","k":"sig","x":-1.39,"y":3.74},{"g":"","k":"sig","x":-2.47,"y":3.68},
    {"g":"","k":"sig","x":-2.14,"y":3.04},{"g":"","k":"sig","x":-1.62,"y":2.81},{"g":"","k":"sig","x":-1.17,"y":3.19},{"g":"","k":"sig","x":-1.14,"y":3.01},{"g":"","k":"sig","x":-1.58,"y":2.1},{"g":"","k":"sig","x":-2.32,"y":2.02},{"g":"","k":"sig","x":-1.28,"y":1.78},{"g":"","k":"sig","x":-2.2,"y":1.59},{"g":"","k":"sig","x":-3.18,"y":1.51},{"g":"","k":"sig","x":-1.55,"y":1.55},{"g":"","k":"sig","x":-1.55,"y":1.45},{"g":"","k":"sig","x":-1.3,"y":1.82},{"g":"","k":"sig","x":-1.2,"y":1.65},
    {"g":"","k":"sig","x":1.16,"y":2.05},{"g":"","k":"sig","x":1.68,"y":1.81},{"g":"","k":"sig","x":1.32,"y":1.87},{"g":"","k":"sig","x":1.53,"y":1.64},{"g":"","k":"sig","x":1.68,"y":1.61},{"g":"","k":"sig","x":1.16,"y":1.61},{"g":"","k":"sig","x":1.76,"y":1.43},{"g":"","k":"sig","x":1.91,"y":1.42},{"g":"","k":"sig","x":2.13,"y":1.41},{"g":"","k":"sig","x":2.54,"y":1.41},{"g":"","k":"sig","x":2.64,"y":1.38},{"g":"","k":"sig","x":4.02,"y":1.38},{"g":"","k":"sig","x":1.2,"y":1.95},{"g":"","k":"sig","x":1.25,"y":1.7},{"g":"","k":"sig","x":1.45,"y":1.75},{"g":"","k":"sig","x":1.6,"y":1.55}
  ]
},
"spacing": 67,
"hconcat": [
  {
    "title": {"text": "A", "anchor": "start", "fontSize": 20, "dx": -7, "offset": 4},
    "vconcat": [
      {
        "width": 541, "height": 443,
        "title": {"text": "Volcano plot of TOFU-6:3xMYC vs TOFU-6:3xMYC; TOFU-2[E216A]", "fontSize": 18, "frame": "group", "anchor": "middle", "offset": 3},
        "layer": [
          {"data": {"name": "gxA"}, "mark": {"type": "rule", "color": "#ebebeb"},
           "encoding": {"x": {"field": "v", "type": "quantitative", "scale": {"domain": [-4.43, 4.43], "nice": false, "zero": false}, "axis": {"values": [-4, -2, 0, 2, 4], "title": null, "labelFlush": false}},
                        "strokeWidth": {"field": "k", "type": "nominal", "scale": {"domain": ["major", "minor"], "range": [1.2, 0.6]}, "legend": null}}},
          {"data": {"name": "gyA"}, "mark": {"type": "rule", "color": "#ebebeb"},
           "encoding": {"y": {"field": "v", "type": "quantitative", "scale": {"domain": [-1.1, 6.02], "nice": false, "zero": false}, "axis": {"values": [0, 2, 4, 6], "title": "−log₁₀(p−value)"}},
                        "strokeWidth": {"field": "k", "type": "nominal", "scale": {"domain": ["major", "minor"], "range": [1.2, 0.6]}, "legend": null}}},
          {"data": {"name": "zero"}, "mark": {"type": "rule", "color": "#c4c4c4", "strokeWidth": 1.6},
           "encoding": {"x": {"field": "v", "type": "quantitative", "scale": {"domain": [-4.43, 4.43], "nice": false, "zero": false}, "axis": {"values": [-4, -2, 0, 2, 4], "title": null, "labelFlush": false}}}},
          {"data": {"name": "zero"}, "mark": {"type": "rule", "color": "#c4c4c4", "strokeWidth": 1.6},
           "encoding": {"y": {"field": "v", "type": "quantitative", "scale": {"domain": [-1.1, 6.02], "nice": false, "zero": false}, "axis": {"values": [0, 2, 4, 6], "title": "−log₁₀(p−value)"}}}},
          {"data": {"name": "gA"}, "mark": {"type": "point", "filled": true, "fill": "#c9c9c9", "fillOpacity": 0.75, "stroke": "#5c5c5c", "strokeWidth": 0.5, "size": 27, "opacity": 1},
           "encoding": {"x": {"field": "x", "type": "quantitative", "scale": {"domain": [-4.43, 4.43], "nice": false, "zero": false}, "axis": {"values": [-4, -2, 0, 2, 4], "title": null, "labelFlush": false}},
                        "y": {"field": "y", "type": "quantitative", "scale": {"domain": [-1.1, 6.02], "nice": false, "zero": false}, "axis": {"values": [0, 2, 4, 6], "title": "−log₁₀(p−value)"}},
                        "shape": {"field": "s", "type": "nominal", "scale": {"domain": ["c", "u", "d"], "range": ["circle", "triangle-up", "triangle-down"]}, "legend": null}}},
          {"data": {"name": "thrA"}, "mark": {"type": "line", "color": "black", "strokeWidth": 1.8, "strokeDash": [7, 5], "clip": true},
           "encoding": {"x": {"field": "x", "type": "quantitative", "scale": {"domain": [-4.43, 4.43], "nice": false, "zero": false}, "axis": {"values": [-4, -2, 0, 2, 4], "title": null, "labelFlush": false}},
                        "y": {"field": "y", "type": "quantitative", "scale": {"domain": [-1.1, 6.02], "nice": false, "zero": false}, "axis": {"values": [0, 2, 4, 6], "title": "−log₁₀(p−value)"}},
                        "detail": {"field": "side", "type": "nominal"}}},
          {"data": {"name": "lA"}, "mark": {"type": "point", "filled": true, "color": "#2a2a2a", "size": 11, "opacity": 1},
           "encoding": {"x": {"field": "x", "type": "quantitative", "scale": {"domain": [-4.43, 4.43], "nice": false, "zero": false}, "axis": {"values": [-4, -2, 0, 2, 4], "title": null, "labelFlush": false}},
                        "y": {"field": "y", "type": "quantitative", "scale": {"domain": [-1.1, 6.02], "nice": false, "zero": false}, "axis": {"values": [0, 2, 4, 6], "title": "−log₁₀(p−value)"}}}},
          {"data": {"name": "lA"}, "mark": {"type": "text", "fontSize": 14, "fill": "black", "font": "Liberation Sans"},
           "encoding": {"x": {"field": "lx", "type": "quantitative", "scale": {"domain": [-4.43, 4.43], "nice": false, "zero": false}, "axis": {"values": [-4, -2, 0, 2, 4], "title": null, "labelFlush": false}},
                        "y": {"field": "ly", "type": "quantitative", "scale": {"domain": [-1.1, 6.02], "nice": false, "zero": false}, "axis": {"values": [0, 2, 4, 6], "title": "−log₁₀(p−value)"}},
                        "text": {"field": "g", "type": "nominal"}}},
          {"data": {"name": "tA"}, "mark": {"type": "text", "fontSize": 17.5, "fill": "black", "font": "Liberation Sans"},
           "encoding": {"x": {"field": "x", "type": "quantitative", "scale": {"domain": [-4.43, 4.43], "nice": false, "zero": false}, "axis": {"values": [-4, -2, 0, 2, 4], "title": null, "labelFlush": false}},
                        "y": {"field": "y", "type": "quantitative", "scale": {"domain": [-1.1, 6.02], "nice": false, "zero": false}, "axis": {"values": [0, 2, 4, 6], "title": "−log₁₀(p−value)"}},
                        "text": {"field": "t", "type": "nominal"}}}
        ]
      }
    ]
  },
  {
    "title": {"text": "B", "anchor": "start", "fontSize": 20, "dx": 12, "offset": 4},
    "vconcat": [
      {
        "width": 542, "height": 443,
        "title": {"text": "α-HA TOFU-2[E216A]:HA IP", "fontSize": 16, "frame": "group", "anchor": "middle", "offset": 3, "dx": 7},
        "layer": [
          {"data": {"name": "gxB"}, "mark": {"type": "rule", "color": "#ebebeb"},
           "encoding": {"x": {"field": "v", "type": "quantitative", "scale": {"domain": [-10, 10], "nice": false, "zero": false}, "axis": {"values": [-10, -5, 0, 5, 10], "title": null, "labelFlush": false}},
                        "strokeWidth": {"field": "k", "type": "nominal", "scale": {"domain": ["major", "minor"], "range": [1.2, 0.6]}, "legend": null}}},
          {"data": {"name": "gyB"}, "mark": {"type": "rule", "color": "#ebebeb"},
           "encoding": {"y": {"field": "v", "type": "quantitative", "scale": {"domain": [-1.16, 6.73], "nice": false, "zero": false}, "axis": {"values": [0, 2, 4, 6], "title": "−log₁₀(p−value)"}},
                        "strokeWidth": {"field": "k", "type": "nominal", "scale": {"domain": ["major", "minor"], "range": [1.2, 0.6]}, "legend": null}}},
          {"data": {"name": "gB"}, "mark": {"type": "point", "filled": true, "fill": "#a3a3a3", "stroke": "#383838", "strokeWidth": 0.6, "size": 36, "opacity": 1},
           "encoding": {"x": {"field": "x", "type": "quantitative", "scale": {"domain": [-10, 10], "nice": false, "zero": false}, "axis": {"values": [-10, -5, 0, 5, 10], "title": null, "labelFlush": false}},
                        "y": {"field": "y", "type": "quantitative", "scale": {"domain": [-1.16, 6.73], "nice": false, "zero": false}, "axis": {"values": [0, 2, 4, 6], "title": "−log₁₀(p−value)"}},
                        "shape": {"field": "s", "type": "nominal", "scale": {"domain": ["c", "u", "d"], "range": ["circle", "triangle-up", "triangle-down"]}, "legend": null}}},
          {"data": {"name": "zero"}, "mark": {"type": "rule", "color": "#cccccc", "strokeWidth": 1.6},
           "encoding": {"x": {"field": "v", "type": "quantitative", "scale": {"domain": [-10, 10], "nice": false, "zero": false}, "axis": {"values": [-10, -5, 0, 5, 10], "title": null, "labelFlush": false}}}},
          {"data": {"name": "zero"}, "mark": {"type": "rule", "color": "#cccccc", "strokeWidth": 1.6},
           "encoding": {"y": {"field": "v", "type": "quantitative", "scale": {"domain": [-1.16, 6.73], "nice": false, "zero": false}, "axis": {"values": [0, 2, 4, 6], "title": "−log₁₀(p−value)"}}}},
          {"data": {"name": "thrB"}, "mark": {"type": "line", "color": "black", "strokeWidth": 1.8, "strokeDash": [7, 5], "clip": true},
           "encoding": {"x": {"field": "x", "type": "quantitative", "scale": {"domain": [-10, 10], "nice": false, "zero": false}, "axis": {"values": [-10, -5, 0, 5, 10], "title": null, "labelFlush": false}},
                        "y": {"field": "y", "type": "quantitative", "scale": {"domain": [-1.16, 6.73], "nice": false, "zero": false}, "axis": {"values": [0, 2, 4, 6], "title": "−log₁₀(p−value)"}},
                        "detail": {"field": "side", "type": "nominal"}}},
          {"data": {"name": "pB"}, "transform": [{"filter": "datum.k == 'sig'"}], "mark": {"type": "point", "filled": true, "color": "black", "size": 30, "opacity": 1},
           "encoding": {"x": {"field": "x", "type": "quantitative", "scale": {"domain": [-10, 10], "nice": false, "zero": false}, "axis": {"values": [-10, -5, 0, 5, 10], "title": null, "labelFlush": false}},
                        "y": {"field": "y", "type": "quantitative", "scale": {"domain": [-1.16, 6.73], "nice": false, "zero": false}, "axis": {"values": [0, 2, 4, 6], "title": "−log₁₀(p−value)"}}}},
          {"data": {"name": "pB"}, "transform": [{"filter": "datum.k == 'red'"}], "mark": {"type": "point", "filled": true, "color": "#e8191e", "size": 34, "opacity": 1},
           "encoding": {"x": {"field": "x", "type": "quantitative", "scale": {"domain": [-10, 10], "nice": false, "zero": false}, "axis": {"values": [-10, -5, 0, 5, 10], "title": null, "labelFlush": false}},
                        "y": {"field": "y", "type": "quantitative", "scale": {"domain": [-1.16, 6.73], "nice": false, "zero": false}, "axis": {"values": [0, 2, 4, 6], "title": "−log₁₀(p−value)"}}}},
          {"data": {"name": "pB"}, "transform": [{"filter": "datum.k == 'reds'"}], "mark": {"type": "point", "filled": true, "color": "#e8191e", "size": 14, "opacity": 1},
           "encoding": {"x": {"field": "x", "type": "quantitative", "scale": {"domain": [-10, 10], "nice": false, "zero": false}, "axis": {"values": [-10, -5, 0, 5, 10], "title": null, "labelFlush": false}},
                        "y": {"field": "y", "type": "quantitative", "scale": {"domain": [-1.16, 6.73], "nice": false, "zero": false}, "axis": {"values": [0, 2, 4, 6], "title": "−log₁₀(p−value)"}}}},
          {"data": {"name": "pB"}, "transform": [{"filter": "datum.k == 'open'"}], "mark": {"type": "point", "filled": false, "stroke": "#e8191e", "fill": "white", "strokeWidth": 1.6, "size": 22, "opacity": 1},
           "encoding": {"x": {"field": "x", "type": "quantitative", "scale": {"domain": [-10, 10], "nice": false, "zero": false}, "axis": {"values": [-10, -5, 0, 5, 10], "title": null, "labelFlush": false}},
                        "y": {"field": "y", "type": "quantitative", "scale": {"domain": [-1.16, 6.73], "nice": false, "zero": false}, "axis": {"values": [0, 2, 4, 6], "title": "−log₁₀(p−value)"}}}},
          {"data": {"name": "pB"}, "transform": [{"filter": "datum.k == 'orange'"}], "mark": {"type": "point", "filled": true, "shape": "triangle-down", "color": "#e8872a", "size": 26, "opacity": 1},
           "encoding": {"x": {"field": "x", "type": "quantitative", "scale": {"domain": [-10, 10], "nice": false, "zero": false}, "axis": {"values": [-10, -5, 0, 5, 10], "title": null, "labelFlush": false}},
                        "y": {"field": "y", "type": "quantitative", "scale": {"domain": [-1.16, 6.73], "nice": false, "zero": false}, "axis": {"values": [0, 2, 4, 6], "title": "−log₁₀(p−value)"}}}},
          {"data": {"name": "pB"}, "transform": [{"filter": "datum.g != '' && datum.k != 'open'"}], "mark": {"type": "text", "fontSize": 15, "fill": "black", "font": "Liberation Sans"},
           "encoding": {"x": {"field": "lx", "type": "quantitative", "scale": {"domain": [-10, 10], "nice": false, "zero": false}, "axis": {"values": [-10, -5, 0, 5, 10], "title": null, "labelFlush": false}},
                        "y": {"field": "ly", "type": "quantitative", "scale": {"domain": [-1.16, 6.73], "nice": false, "zero": false}, "axis": {"values": [0, 2, 4, 6], "title": "−log₁₀(p−value)"}},
                        "text": {"field": "g", "type": "nominal"}}},
          {"data": {"name": "pB"}, "transform": [{"filter": "datum.k == 'open'"}], "mark": {"type": "text", "fontSize": 10, "fill": "black", "font": "Liberation Sans"},
           "encoding": {"x": {"field": "lx", "type": "quantitative", "scale": {"domain": [-10, 10], "nice": false, "zero": false}, "axis": {"values": [-10, -5, 0, 5, 10], "title": null, "labelFlush": false}},
                        "y": {"field": "ly", "type": "quantitative", "scale": {"domain": [-1.16, 6.73], "nice": false, "zero": false}, "axis": {"values": [0, 2, 4, 6], "title": "−log₁₀(p−value)"}},
                        "text": {"field": "g", "type": "nominal"}}},
          {"data": {"name": "tB"}, "mark": {"type": "text", "fontSize": 17, "fill": "black", "font": "Liberation Sans"},
           "encoding": {"x": {"field": "x", "type": "quantitative", "scale": {"domain": [-10, 10], "nice": false, "zero": false}, "axis": {"values": [-10, -5, 0, 5, 10], "title": null, "labelFlush": false}},
                        "y": {"field": "y", "type": "quantitative", "scale": {"domain": [-1.16, 6.73], "nice": false, "zero": false}, "axis": {"values": [0, 2, 4, 6], "title": "−log₁₀(p−value)"}},
                        "text": {"field": "t", "type": "nominal"}}}
        ]
      }
    ]
  }
]
}
